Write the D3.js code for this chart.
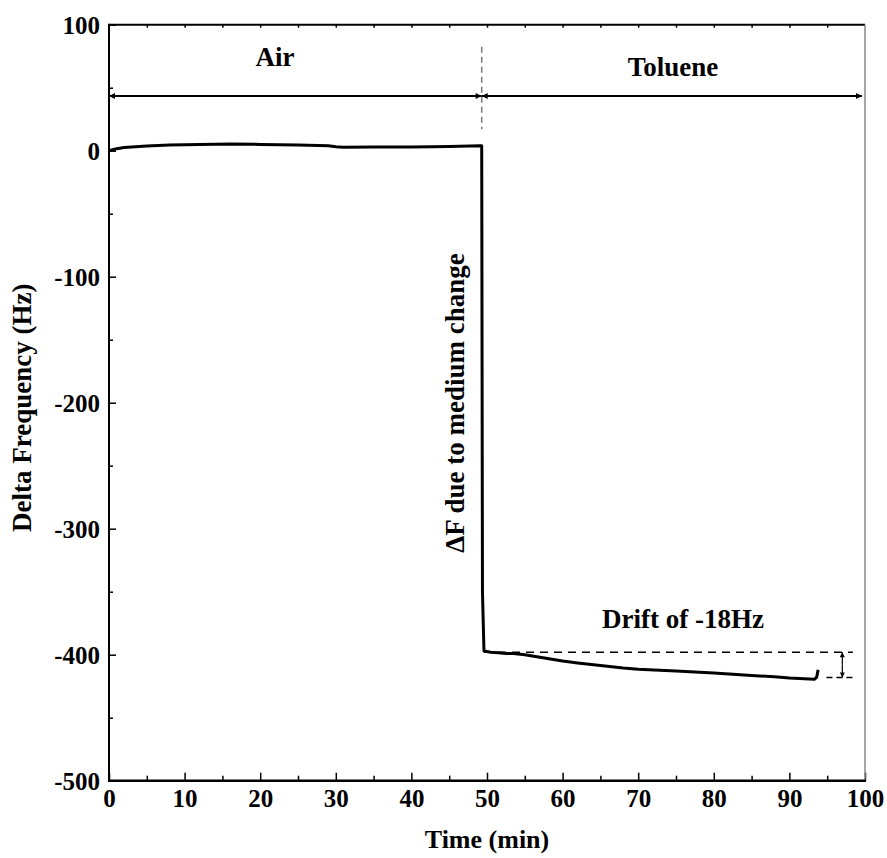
<!DOCTYPE html>
<html>
<head>
<meta charset="utf-8">
<script src="https://cdn.jsdelivr.net/npm/d3@7"></script>
<style>
  body { margin: 0; background: #fff; }
  text { font-family: "Liberation Serif", "Times New Roman", serif; font-weight: bold; fill: #000; }
</style>
</head>
<body>
<svg id="chart" width="887" height="858"></svg>
<script>
// ---- data ----
const timeMin = [0, 1, 2, 3, 5, 8, 12, 16, 20, 25, 29, 30, 31, 35, 40, 45, 49.1, 49.3, 49.4, 49.6, 50.5, 51.5, 52.5, 53.5, 55, 57, 60, 62, 65, 68, 70, 75, 80, 85, 88, 90, 92, 93.3, 93.6, 93.8];
const deltaHz = [0, 1.5, 2.5, 3, 3.8, 4.5, 5, 5.3, 5, 4.5, 4, 3.2, 2.8, 3, 3, 3.3, 4, 4, -350, -397, -398, -398.5, -399, -399, -400, -402, -405, -406.5, -408.5, -410.5, -411.5, -413, -414.5, -416.5, -417.5, -418.5, -419, -419.5, -418, -412];
const xTicks = [0, 10, 20, 30, 40, 50, 60, 70, 80, 90, 100];
const yTicks = [100, 0, -100, -200, -300, -400, -500];
const phaseLabels = ["Air", "Toluene"];
const phaseBoundary = 49.3;      // min
const phaseArrowY = 43.4;        // Hz
const phaseArrowEnd = 99.6;      // min
const driftTop = -398, driftBottom = -418;
const driftLabel = "Drift of -18Hz";
const stepLabel = "\u0394F due to medium change";

// ---- layout ----
const svg = d3.select("#chart");
const L = 109, R = 865, T = 24.7, B = 780.7;
const x = d3.scaleLinear().domain([0, 100]).range([L, R]);
const y = d3.scaleLinear().domain([-500, 100]).range([B, T]);

const defs = svg.append("defs");
defs.append("marker").attr("id", "arr").attr("viewBox", "0 0 10 10")
  .attr("refX", 10).attr("refY", 5).attr("markerWidth", 10).attr("markerHeight", 6)
  .attr("markerUnits", "userSpaceOnUse").attr("orient", "auto-start-reverse")
  .append("path").attr("d", "M0,0 L10,5 L0,10 z").attr("fill", "#000");
defs.append("marker").attr("id", "arr2").attr("viewBox", "0 0 10 10")
  .attr("refX", 10).attr("refY", 5).attr("markerWidth", 6).attr("markerHeight", 5)
  .attr("markerUnits", "userSpaceOnUse").attr("orient", "auto")
  .append("path").attr("d", "M0,0 L10,5 L0,10 z").attr("fill", "#000");

// axes
const fontTick = 25;
const fmt = d => String(d);
const gx = svg.append("g").attr("transform", `translate(0,${B})`)
  .call(d3.axisBottom(x).tickValues(xTicks).tickSize(-8).tickPadding(9).tickFormat(fmt));
const gxm = svg.append("g").attr("transform", `translate(0,${B})`)
  .call(d3.axisBottom(x).tickValues(d3.range(5, 100, 10)).tickSize(-5).tickFormat(""));
const gy = svg.append("g").attr("transform", `translate(${L},0)`)
  .call(d3.axisLeft(y).tickValues(yTicks).tickSize(-7).tickPadding(9).tickFormat(fmt));
const gym = svg.append("g").attr("transform", `translate(${L},0)`)
  .call(d3.axisLeft(y).tickValues(d3.range(-450, 100, 100)).tickSize(-4).tickFormat(""));
const gt = svg.append("g").attr("transform", `translate(0,${T})`)
  .call(d3.axisTop(x).tickValues(d3.range(5, 100, 5)).tickSize(-3).tickFormat(""));

[gx, gxm, gy, gym, gt].forEach(g => {
  g.select(".domain").remove();
  g.selectAll(".tick line").attr("stroke", "#000").attr("stroke-width", 1.5);
  g.selectAll("text").style("font-size", fontTick + "px").attr("fill", "#000");
});
gx.selectAll("text").attr("dy", "0.71em");
gy.selectAll("text").attr("dy", "0.35em");

// frame
svg.append("line").attr("x1", L).attr("x2", R).attr("y1", T).attr("y2", T).attr("stroke", "#000").attr("stroke-width", 2);
svg.append("line").attr("x1", R).attr("x2", R).attr("y1", T).attr("y2", B).attr("stroke", "#888").attr("stroke-width", 1.5);
svg.append("line").attr("x1", L).attr("x2", L).attr("y1", T - 1).attr("y2", B + 1).attr("stroke", "#000").attr("stroke-width", 2);
svg.append("line").attr("x1", L - 1).attr("x2", R + 1).attr("y1", B).attr("y2", B).attr("stroke", "#000").attr("stroke-width", 2.5);

// axis titles
svg.append("text").attr("x", (L + R) / 2).attr("y", 848).attr("text-anchor", "middle")
  .style("font-size", "26px").text("Time (min)");
svg.append("text").attr("transform", `translate(31,${(T + B) / 2 + 5}) rotate(-90)`).attr("text-anchor", "middle")
  .style("font-size", "27px").text("Delta Frequency (Hz)");

// data line
const pts = timeMin.map((t, i) => [t, deltaHz[i]]);
svg.append("path").datum(pts)
  .attr("d", d3.line().x(d => x(d[0])).y(d => y(d[1])))
  .attr("fill", "none").attr("stroke", "#000").attr("stroke-width", 3).attr("stroke-linejoin", "round");

// phase arrows
svg.append("line").attr("x1", x(phaseBoundary)).attr("x2", x(0)).attr("y1", y(phaseArrowY)).attr("y2", y(phaseArrowY))
  .attr("stroke", "#000").attr("stroke-width", 2).attr("marker-end", "url(#arr)").attr("marker-start", "url(#arr)");
svg.append("line").attr("x1", x(phaseBoundary)).attr("x2", x(phaseArrowEnd)).attr("y1", y(phaseArrowY)).attr("y2", y(phaseArrowY))
  .attr("stroke", "#000").attr("stroke-width", 2).attr("marker-end", "url(#arr)").attr("marker-start", "url(#arr)");
svg.append("line").attr("x1", x(phaseBoundary)).attr("x2", x(phaseBoundary)).attr("y1", y(82.5)).attr("y2", y(17))
  .attr("stroke", "#777").attr("stroke-width", 1.5).attr("stroke-dasharray", "6,4");

svg.append("text").attr("x", 275).attr("y", 66).attr("text-anchor", "middle").style("font-size", "27px").text(phaseLabels[0]);
svg.append("text").attr("x", 673).attr("y", 76).attr("text-anchor", "middle").style("font-size", "27px").text(phaseLabels[1]);

// step label
svg.append("text").attr("transform", `translate(464,403) rotate(-90)`).attr("text-anchor", "middle")
  .style("font-size", "27px").text(stepLabel);

// drift annotation
svg.append("line").attr("x1", x(49.6)).attr("x2", x(98.4)).attr("y1", y(driftTop)).attr("y2", y(driftTop))
  .attr("stroke", "#000").attr("stroke-width", 1.5).attr("stroke-dasharray", "8,6");
svg.append("line").attr("x1", x(94.9)).attr("x2", x(98.4)).attr("y1", y(driftBottom)).attr("y2", y(driftBottom))
  .attr("stroke", "#000").attr("stroke-width", 1.5).attr("stroke-dasharray", "6,4");
svg.append("line").attr("x1", x(97)).attr("x2", x(97)).attr("y1", y((driftTop + driftBottom) / 2)).attr("y2", y(driftTop))
  .attr("stroke", "#000").attr("stroke-width", 1.2).attr("marker-end", "url(#arr2)");
svg.append("line").attr("x1", x(97)).attr("x2", x(97)).attr("y1", y((driftTop + driftBottom) / 2)).attr("y2", y(driftBottom))
  .attr("stroke", "#000").attr("stroke-width", 1.2).attr("marker-end", "url(#arr2)");
svg.append("text").attr("x", 683).attr("y", 628).attr("text-anchor", "middle").style("font-size", "27px").text(driftLabel);
</script>
</body>
</html>
